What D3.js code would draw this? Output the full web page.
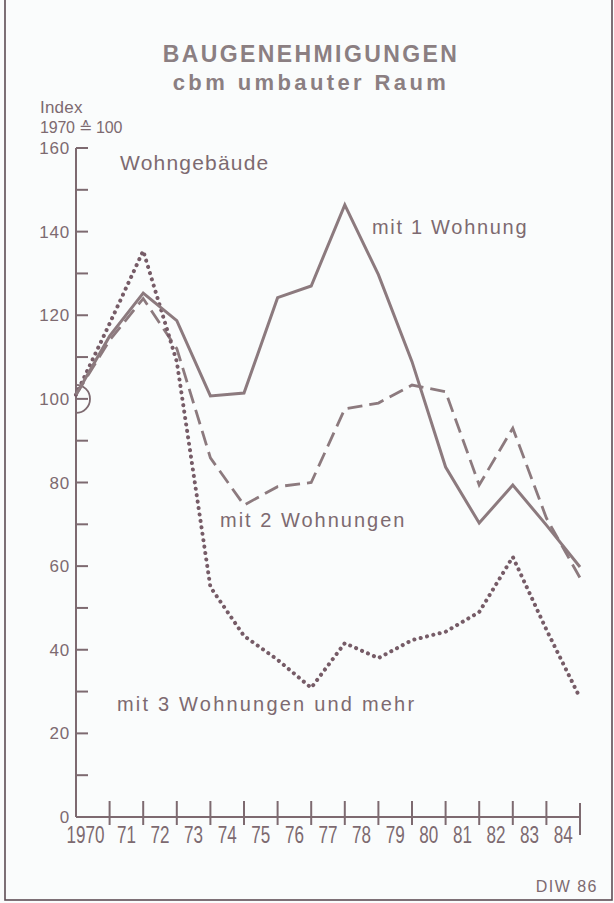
<!DOCTYPE html>
<html>
<head>
<meta charset="utf-8">
<script src="https://cdn.jsdelivr.net/npm/d3@7"></script>
<style>
  html, body { margin: 0; padding: 0; background: #fafcfc; }
  svg { display: block; }
</style>
</head>
<body>
<svg id="chart" width="614" height="903"></svg>
<script>
// ---- data ----
const years = [1970,1971,1972,1973,1974,1975,1976,1977,1978,1979,1980,1981,1982,1983,1984,1985];
const oneDwelling   = [101,115,125.3,118.7,100.7,101.4,124.2,127,146.4,129.7,108.9,83.7,70.3,79.4,69.8,59.8];
const twoDwellings  = [101,114,124,112,85.9,74.6,79,80,97.6,99,103.3,101.7,79.4,93,71.5,57.2];
const threePlus     = [101,118,135.4,108.9,55,43.3,37.6,30.9,41.6,38,42.3,44.3,49,62.2,44.8,28.5];
const xTickLabels   = ["1970","71","72","73","74","75","76","77","78","79","80","81","82","83","84"];
const yTicksMajor   = [0,20,40,60,80,100,120,140,160];
const yTicksMinor   = [10,30,50,70,90,110,130,150];
const seriesLabels  = ["mit 1 Wohnung","mit 2 Wohnungen","mit 3 Wohnungen und mehr"];

const textColor = "#7d6a70";
const lineColor = "#8c7a7e";
const dotColor  = "#765c67";

const svg = d3.select("#chart");
const x = d3.scaleLinear().domain([1970,1985]).range([76,580]);
const y = d3.scaleLinear().domain([0,160]).range([817,148]);

// frame
svg.append("rect").attr("x",5).attr("y",-3).attr("width",607).attr("height",903)
  .attr("fill","none").attr("stroke","#5e4d54").attr("stroke-width",1.6);

// titles
svg.append("text").attr("x",311).attr("y",62).attr("text-anchor","middle")
  .attr("font-family","Liberation Sans, Arial, sans-serif").attr("font-weight","bold")
  .attr("font-size",23).attr("letter-spacing",2.4).attr("fill","#8b7f82")
  .text("BAUGENEHMIGUNGEN");
svg.append("text").attr("x",311).attr("y",90).attr("text-anchor","middle")
  .attr("font-family","Liberation Sans, Arial, sans-serif").attr("font-weight","bold")
  .attr("font-size",22).attr("letter-spacing",3.4).attr("fill","#8b7f82")
  .text("cbm umbauter Raum");

const font = "Liberation Sans, Arial, sans-serif";
svg.append("text").attr("x",40).attr("y",113).attr("font-family",font)
  .attr("font-size",17).attr("letter-spacing",0.2).attr("fill",textColor).text("Index");
svg.append("text").attr("x",40).attr("y",133).attr("font-family",font)
  .attr("font-size",16).attr("letter-spacing",-0.2).attr("fill",textColor).text("1970 ≙ 100");

// y axis
const gy = svg.append("g").attr("stroke",textColor).attr("stroke-width",2);
gy.append("line").attr("x1",x(1970)).attr("x2",x(1970)).attr("y1",y(160)).attr("y2",y(0));
gy.selectAll("line.tk").data(yTicksMajor.filter(d=>d>0).concat(yTicksMinor)).join("line")
  .attr("class","tk").attr("x1",x(1970)).attr("x2",x(1970)+12)
  .attr("y1",d=>y(d)).attr("y2",d=>y(d));
svg.append("g").selectAll("text").data(yTicksMajor).join("text")
  .attr("x",70).attr("y",d=>y(d)+6).attr("text-anchor","end")
  .attr("font-family",font).attr("font-size",17).attr("letter-spacing",0.8)
  .attr("fill",textColor).text(d=>d);

// x axis
const gx = svg.append("g").attr("stroke",textColor).attr("stroke-width",2);
gx.append("line").attr("x1",x(1970)).attr("x2",x(1985)).attr("y1",y(0)).attr("y2",y(0));
gx.selectAll("line.tk").data(years.slice(1)).join("line").attr("class","tk")
  .attr("x1",d=>x(d)).attr("x2",d=>x(d))
  .attr("y1",d=>d===1985? y(0)-14 : y(0)-16)
  .attr("y2",d=>d===1985? y(0)+18 : y(0)+8);
svg.append("g").selectAll("text").data(xTickLabels).join("text")
  .each(function(d,i){
    const yr = 1970+i;
    const w = d.length*9.5;
    const cx = Math.min((x(yr)+x(yr+1))/2, x(yr+1)-5-w/2);
    d3.select(this).attr("x",cx-w/2).attr("y",843)
      .attr("textLength",w).attr("lengthAdjust","spacingAndGlyphs");
  })
  .attr("font-family",font).attr("font-size",23).attr("fill",textColor).text(d=>d);

// base circle at 1970 = 100
const r = 14;
svg.append("path")
  .attr("d",`M${x(1970)},${y(100)-r} A${r},${r} 0 0 1 ${x(1970)},${y(100)+r}`)
  .attr("fill","none").attr("stroke",textColor).attr("stroke-width",1.8);

// lines
const line = d3.line().x((d,i)=>x(years[i])).y(d=>y(d));
svg.append("path").datum(twoDwellings).attr("d",line).attr("fill","none")
  .attr("stroke",lineColor).attr("stroke-width",2.8).attr("stroke-dasharray","15,7");
svg.append("path").datum(threePlus).attr("d",line).attr("fill","none")
  .attr("stroke",dotColor).attr("stroke-width",4).attr("stroke-linecap","round")
  .attr("stroke-dasharray","0.1,6.4");
svg.append("path").datum(oneDwelling).attr("d",line).attr("fill","none")
  .attr("stroke",lineColor).attr("stroke-width",3).attr("stroke-linejoin","miter");

// labels
const lab = (t,xx,yy,ls)=>svg.append("text").attr("x",xx).attr("y",yy)
  .attr("font-family",font).attr("font-size",20).attr("letter-spacing",ls)
  .attr("fill",textColor).text(t);
lab("Wohngebäude",120,170,1.2).attr("font-size",21);
lab(seriesLabels[0],372,234,1.7);
lab(seriesLabels[1],220,527,2.0);
lab(seriesLabels[2],117,711,2.2);

svg.append("text").attr("x",598).attr("y",892).attr("text-anchor","end")
  .attr("font-family",font).attr("font-size",16).attr("letter-spacing",1.5)
  .attr("fill",textColor).text("DIW 86");
</script>
</body>
</html>
